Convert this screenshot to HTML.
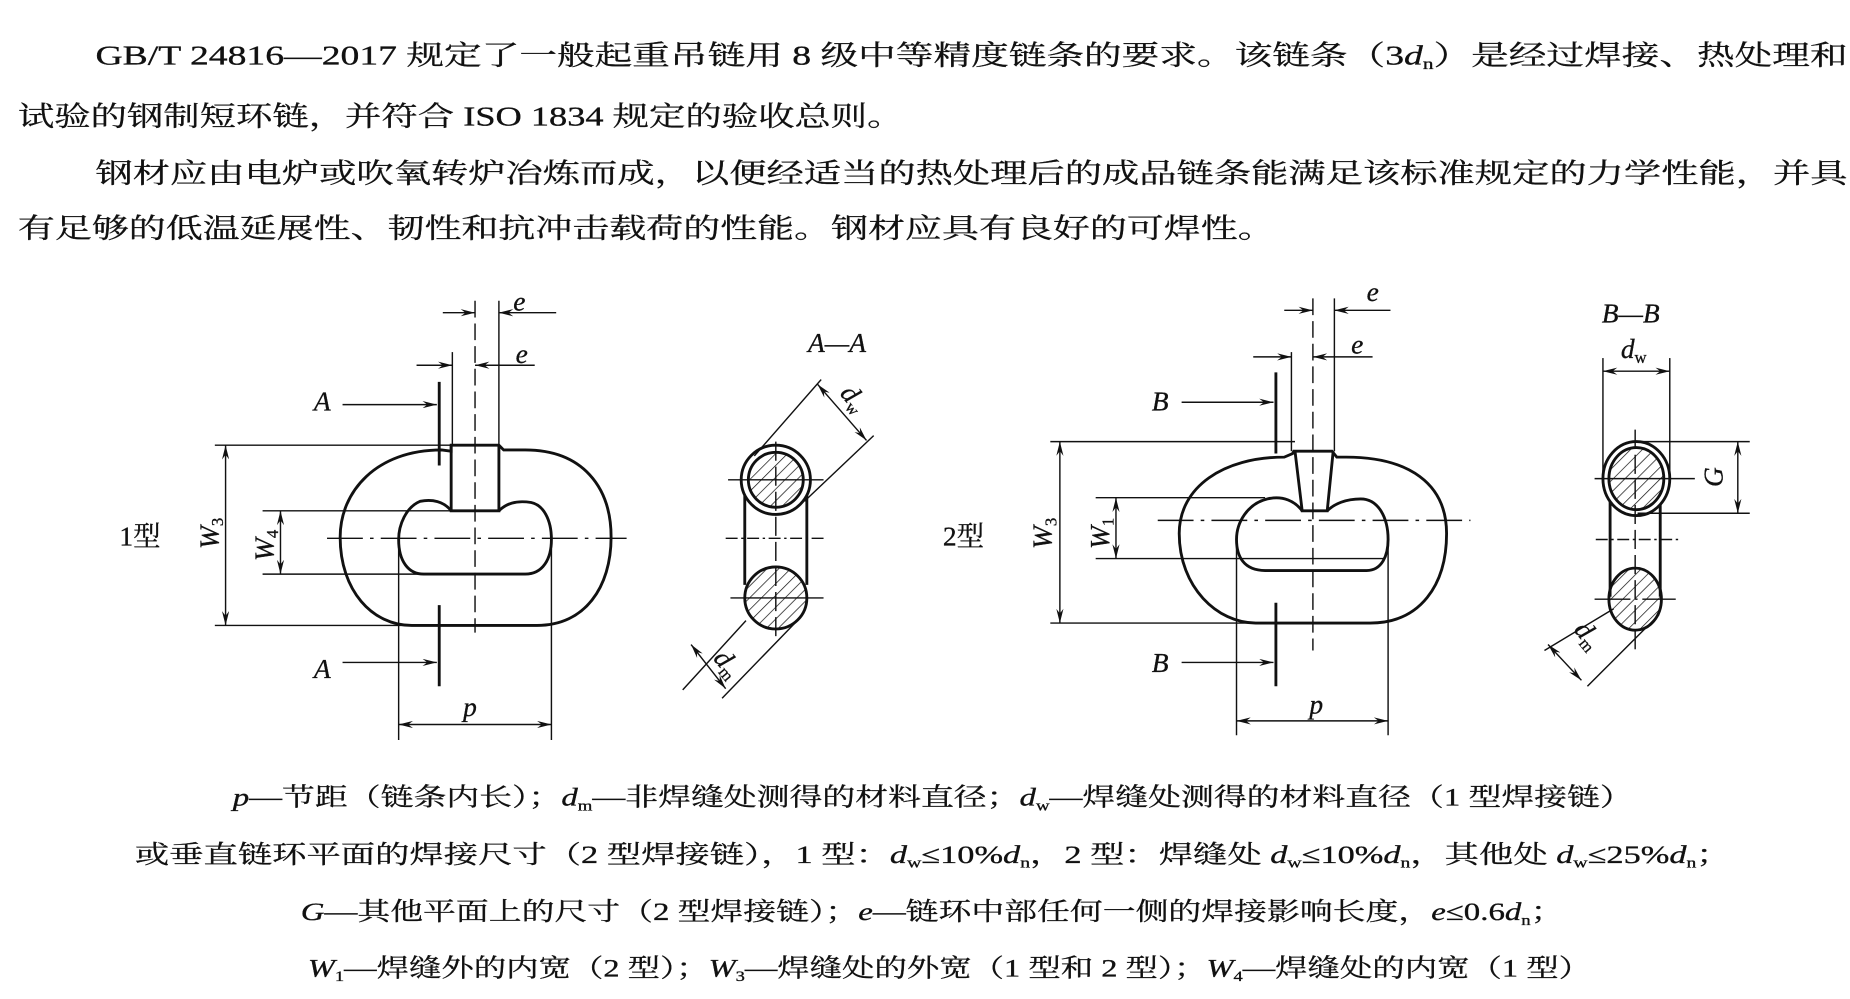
<!DOCTYPE html>
<html><head><meta charset="utf-8"><style>
html,body{margin:0;padding:0;background:#fff;}
svg{display:block}
text{font-family:"Liberation Serif","Noto Serif CJK SC","Noto Sans CJK SC",serif;fill:#111;stroke:#111;stroke-width:0.25;}
.i{font-style:italic}
</style></head><body>
<svg width="1850" height="999" viewBox="0 0 1550 837" preserveAspectRatio="none" xmlns="http://www.w3.org/2000/svg">
<defs>
<marker id="a" viewBox="0 0 12 6" refX="12" refY="3" markerWidth="12" markerHeight="6" markerUnits="userSpaceOnUse" orient="auto"><path d="M0,0 L12,3 L0,6 L4,3z" fill="#111"/></marker>
<marker id="b" viewBox="0 0 12 6" refX="0" refY="3" markerWidth="12" markerHeight="6" markerUnits="userSpaceOnUse" orient="auto"><path d="M12,0 L0,3 L12,6 L8,3z" fill="#111"/></marker>
<pattern id="h" width="7" height="7" patternUnits="userSpaceOnUse" patternTransform="rotate(45)"><line x1="0" y1="0" x2="0" y2="7" stroke="#111" stroke-width="1.2"/></pattern>
</defs>
<g font-size="23">
<text x="80" y="54" textLength="1468" lengthAdjust="spacingAndGlyphs">GB/T 24816—2017 规定了一般起重吊链用 8 级中等精度链条的要求。该链条（3<tspan class="i">d</tspan><tspan font-size="13" dy="4">n</tspan><tspan dy="-4">）是经过焊接、热处理和</tspan></text>
<text x="15" y="105" textLength="742" lengthAdjust="spacingAndGlyphs">试验的钢制短环链，并符合 ISO 1834 规定的验收总则。</text>
<text x="80" y="153" textLength="1468" lengthAdjust="spacingAndGlyphs">钢材应由电炉或吹氧转炉冶炼而成，以便经适当的热处理后的成品链条能满足该标准规定的力学性能，并具</text>
<text x="15" y="199" textLength="1053" lengthAdjust="spacingAndGlyphs">有足够的低温延展性、韧性和抗冲击载荷的性能。钢材应具有良好的可焊性。</text>
</g>
<g font-size="21">
<text x="195" y="675" textLength="1173" lengthAdjust="spacingAndGlyphs"><tspan class="i">p</tspan>—节距（链条内长）；<tspan class="i">d</tspan><tspan font-size="12" dy="4">m</tspan><tspan dy="-4">—非焊缝处测得的材料直径；</tspan><tspan class="i">d</tspan><tspan font-size="12" dy="4">w</tspan><tspan dy="-4">—焊缝处测得的材料直径（1 型焊接链）</tspan></text>
<text x="113" y="723" textLength="1337" lengthAdjust="spacingAndGlyphs">或垂直链环平面的焊接尺寸（2 型焊接链），1 型：<tspan class="i">d</tspan><tspan font-size="12" dy="4">w</tspan><tspan dy="-4">≤10%</tspan><tspan class="i">d</tspan><tspan font-size="12" dy="4">n</tspan><tspan dy="-4">，2 型：焊缝处 </tspan><tspan class="i">d</tspan><tspan font-size="12" dy="4">w</tspan><tspan dy="-4">≤10%</tspan><tspan class="i">d</tspan><tspan font-size="12" dy="4">n</tspan><tspan dy="-4">，其他处 </tspan><tspan class="i">d</tspan><tspan font-size="12" dy="4">w</tspan><tspan dy="-4">≤25%</tspan><tspan class="i">d</tspan><tspan font-size="12" dy="4">n</tspan><tspan dy="-4">；</tspan></text>
<text x="252" y="771" textLength="1058" lengthAdjust="spacingAndGlyphs"><tspan class="i">G</tspan>—其他平面上的尺寸（2 型焊接链）；<tspan class="i">e</tspan>—链环中部任何一侧的焊接影响长度，<tspan class="i">e</tspan>≤0.6<tspan class="i">d</tspan><tspan font-size="12" dy="4">n</tspan><tspan dy="-4">；</tspan></text>
<text x="258" y="818" textLength="1075" lengthAdjust="spacingAndGlyphs"><tspan class="i">W</tspan><tspan font-size="12" dy="4">1</tspan><tspan dy="-4">—焊缝外的内宽（2 型）；</tspan><tspan class="i">W</tspan><tspan font-size="12" dy="4">3</tspan><tspan dy="-4">—焊缝处的外宽（1 型和 2 型）；</tspan><tspan class="i">W</tspan><tspan font-size="12" dy="4">4</tspan><tspan dy="-4">—焊缝处的内宽（1 型）</tspan></text>
</g>

<!-- Figure 1 -->
<g stroke="#111" fill="none" stroke-width="1.2">
<path d="M378,378 L370,377 C315,377 285,412 285,450 C285,495 312,524 345,524 L450,524 C490,524 512,492 512,450 C512,408 488,377 440,377 L422,377 L418,373 L378,373 Z" stroke-width="2.4"/>
<path d="M378,373 L378,428 L418,428 L418,373" stroke-width="2.4"/>
<path d="M378,428 C372,420 362,418 352,420 C340,425 334,440 334,452 C334,470 342,481 355,481 L440,481 C455,481 462,468 462,452 C462,435 455,423 445,421 C432,419 424,422 418,428" stroke-width="2.4"/>
<line x1="274" y1="451" x2="525" y2="451" stroke-dasharray="30,6,3,6"/>
<line x1="398" y1="252" x2="398" y2="530" stroke-dasharray="14,5"/>
<line x1="418" y1="252" x2="418" y2="373"/>
<line x1="379" y1="295" x2="379" y2="373"/>
<line x1="371" y1="262" x2="398" y2="262" marker-end="url(#a)"/>
<line x1="466" y1="262" x2="418" y2="262" marker-end="url(#a)"/>
<line x1="349" y1="306" x2="379" y2="306" marker-end="url(#a)"/>
<line x1="448" y1="306" x2="398" y2="306" marker-end="url(#a)"/>
<line x1="368" y1="320" x2="368" y2="390" stroke-width="2.4"/>
<line x1="368" y1="507" x2="368" y2="575" stroke-width="2.4"/>
<line x1="287" y1="339" x2="366" y2="339" marker-end="url(#a)"/>
<line x1="287" y1="555" x2="366" y2="555" marker-end="url(#a)"/>
<line x1="180" y1="373" x2="378" y2="373"/>
<line x1="180" y1="524" x2="360" y2="524"/>
<line x1="189" y1="373" x2="189" y2="524" marker-start="url(#b)" marker-end="url(#a)"/>
<line x1="220" y1="428" x2="378" y2="428"/>
<line x1="220" y1="481" x2="355" y2="481"/>
<line x1="235" y1="428" x2="235" y2="481" marker-start="url(#b)" marker-end="url(#a)"/>
<line x1="334" y1="460" x2="334" y2="620"/>
<line x1="462" y1="460" x2="462" y2="620"/>
<line x1="334" y1="607" x2="462" y2="607" marker-start="url(#b)" marker-end="url(#a)"/>
</g>
<g font-size="23">
<text x="430" y="260" class="i">e</text>
<text x="432" y="304" class="i">e</text>
<text x="263" y="344" class="i">A</text>
<text x="263" y="568" class="i">A</text>
<text x="388" y="600" class="i">p</text>
<text x="100" y="457">1型</text>
<text x="677" y="295" class="i">A—A</text>
<text transform="translate(183,460) rotate(-90)" class="i">W<tspan font-size="14" dy="4" font-style="normal">3</tspan></text>
<text transform="translate(229,470) rotate(-90)" class="i">W<tspan font-size="14" dy="4" font-style="normal">4</tspan></text>
</g>
<!-- Section A-A -->
<g stroke="#111" fill="none" stroke-width="1.2">
<line x1="624" y1="415" x2="624" y2="490" stroke-width="2.4"/>
<line x1="676" y1="415" x2="676" y2="490" stroke-width="2.4"/>
<circle cx="650" cy="402" r="29" stroke-width="2.4" fill="#fff"/>
<circle cx="650" cy="402" r="23" stroke-width="2.4" fill="url(#h)"/>
<circle cx="650" cy="501" r="26" stroke-width="2.4" fill="url(#h)"/>
<line x1="610" y1="402" x2="690" y2="402"/>
<line x1="612" y1="501" x2="690" y2="501"/>
<line x1="608" y1="451" x2="690" y2="451" stroke-dasharray="10,3,2,3"/>
<line x1="650" y1="370" x2="650" y2="535" stroke-dasharray="16,5"/>
<line x1="632" y1="382" x2="688" y2="318"/>
<line x1="674" y1="420" x2="732" y2="365"/>
<line x1="685" y1="322" x2="726" y2="369" marker-start="url(#b)" marker-end="url(#a)"/>
<line x1="625" y1="520" x2="572" y2="578"/>
<line x1="668" y1="520" x2="605" y2="585"/>
<line x1="579" y1="540" x2="608" y2="577" marker-start="url(#b)" marker-end="url(#a)"/>
</g>
<text transform="translate(703,330) rotate(50)" font-size="23" class="i">d<tspan font-size="14" dy="4" font-style="normal">w</tspan></text>
<text transform="translate(597,552) rotate(50)" font-size="23" class="i">d<tspan font-size="14" dy="4" font-style="normal">m</tspan></text>

<!-- Figure 2 -->
<g stroke="#111" fill="none" stroke-width="1.2">
<path d="M1083,380 L1076,383 C1025,383 988,408 988,447 C988,492 1020,522 1052,522 L1148,522 C1190,522 1212,490 1212,447 C1212,405 1180,383 1128,383 L1120,383 L1116,378 L1084,378 Z" stroke-width="2.4"/>
<path d="M1085,378 L1091,428 L1112,428 L1117,378" stroke-width="2.4"/>
<path d="M1091,428 C1085,420 1075,415 1062,418 C1045,422 1036,438 1036,452 C1036,466 1042,478 1060,478 L1145,478 C1158,478 1163,465 1163,452 C1163,434 1155,418 1140,418 C1128,418 1118,422 1112,428" stroke-width="2.4"/>
<line x1="970" y1="436" x2="1232" y2="436" stroke-dasharray="30,6,3,6"/>
<line x1="1100" y1="250" x2="1100" y2="545" stroke-dasharray="14,5"/>
<line x1="1118" y1="250" x2="1118" y2="378"/>
<line x1="1082" y1="295" x2="1082" y2="378"/>
<line x1="1076" y1="260" x2="1100" y2="260" marker-end="url(#a)"/>
<line x1="1165" y1="260" x2="1118" y2="260" marker-end="url(#a)"/>
<line x1="1050" y1="299" x2="1082" y2="299" marker-end="url(#a)"/>
<line x1="1150" y1="299" x2="1100" y2="299" marker-end="url(#a)"/>
<line x1="1069" y1="312" x2="1069" y2="380" stroke-width="2.4"/>
<line x1="1069" y1="505" x2="1069" y2="575" stroke-width="2.4"/>
<line x1="990" y1="337" x2="1067" y2="337" marker-end="url(#a)"/>
<line x1="990" y1="555" x2="1067" y2="555" marker-end="url(#a)"/>
<line x1="880" y1="370" x2="1085" y2="370"/>
<line x1="880" y1="522" x2="1060" y2="522"/>
<line x1="888" y1="370" x2="888" y2="522" marker-start="url(#b)" marker-end="url(#a)"/>
<line x1="918" y1="417" x2="1060" y2="417"/>
<line x1="918" y1="468" x2="1160" y2="468"/>
<line x1="935" y1="417" x2="935" y2="468" marker-start="url(#b)" marker-end="url(#a)"/>
<line x1="1036" y1="455" x2="1036" y2="616"/>
<line x1="1163" y1="455" x2="1163" y2="616"/>
<line x1="1036" y1="604" x2="1163" y2="604" marker-start="url(#b)" marker-end="url(#a)"/>
</g>
<g font-size="23">
<text x="1145" y="252" class="i">e</text>
<text x="1132" y="296" class="i">e</text>
<text x="965" y="344" class="i">B</text>
<text x="965" y="563" class="i">B</text>
<text x="1097" y="598" class="i">p</text>
<text x="790" y="457">2型</text>
<text x="1342" y="270" class="i">B—B</text>
<text x="1358" y="300" class="i">d<tspan font-size="14" dy="4" font-style="normal">w</tspan></text>
<text transform="translate(881,460) rotate(-90)" class="i">W<tspan font-size="14" dy="4" font-style="normal">3</tspan></text>
<text transform="translate(929,460) rotate(-90)" class="i">W<tspan font-size="14" dy="4" font-style="normal">1</tspan></text>
<text transform="translate(1443,408) rotate(-90)" class="i">G</text>
</g>
<!-- Section B-B -->
<g stroke="#111" fill="none" stroke-width="1.2">
<line x1="1343" y1="300" x2="1343" y2="395"/>
<line x1="1399" y1="300" x2="1399" y2="395"/>
<line x1="1343" y1="311" x2="1399" y2="311" marker-start="url(#b)" marker-end="url(#a)"/>
<line x1="1349" y1="420" x2="1349" y2="500" stroke-width="2.4"/>
<line x1="1391" y1="420" x2="1391" y2="500" stroke-width="2.4"/>
<ellipse cx="1371" cy="401" rx="28" ry="31" stroke-width="2.4" fill="#fff"/>
<ellipse cx="1371" cy="401" rx="23" ry="26" stroke-width="2.4" fill="url(#h)"/>
<ellipse cx="1370" cy="502" rx="22" ry="26" stroke-width="2.4" fill="url(#h)"/>
<line x1="1372" y1="370" x2="1466" y2="370"/>
<line x1="1372" y1="430" x2="1466" y2="430"/>
<line x1="1456" y1="370" x2="1456" y2="430" marker-start="url(#b)" marker-end="url(#a)"/>
<line x1="1336" y1="401" x2="1420" y2="401"/>
<line x1="1336" y1="502" x2="1404" y2="502" stroke-dasharray="30,4,2,4"/>
<line x1="1337" y1="452" x2="1408" y2="452" stroke-dasharray="10,3,2,3"/>
<line x1="1370" y1="360" x2="1370" y2="545" stroke-dasharray="16,5"/>
<line x1="1352" y1="510" x2="1294" y2="545"/>
<line x1="1390" y1="515" x2="1330" y2="575"/>
<line x1="1297" y1="540" x2="1325" y2="570" marker-start="url(#b)" marker-end="url(#a)"/>
</g>
<text transform="translate(1318,528) rotate(50)" font-size="23" class="i">d<tspan font-size="14" dy="4" font-style="normal">m</tspan></text>
</svg>
</body></html>
